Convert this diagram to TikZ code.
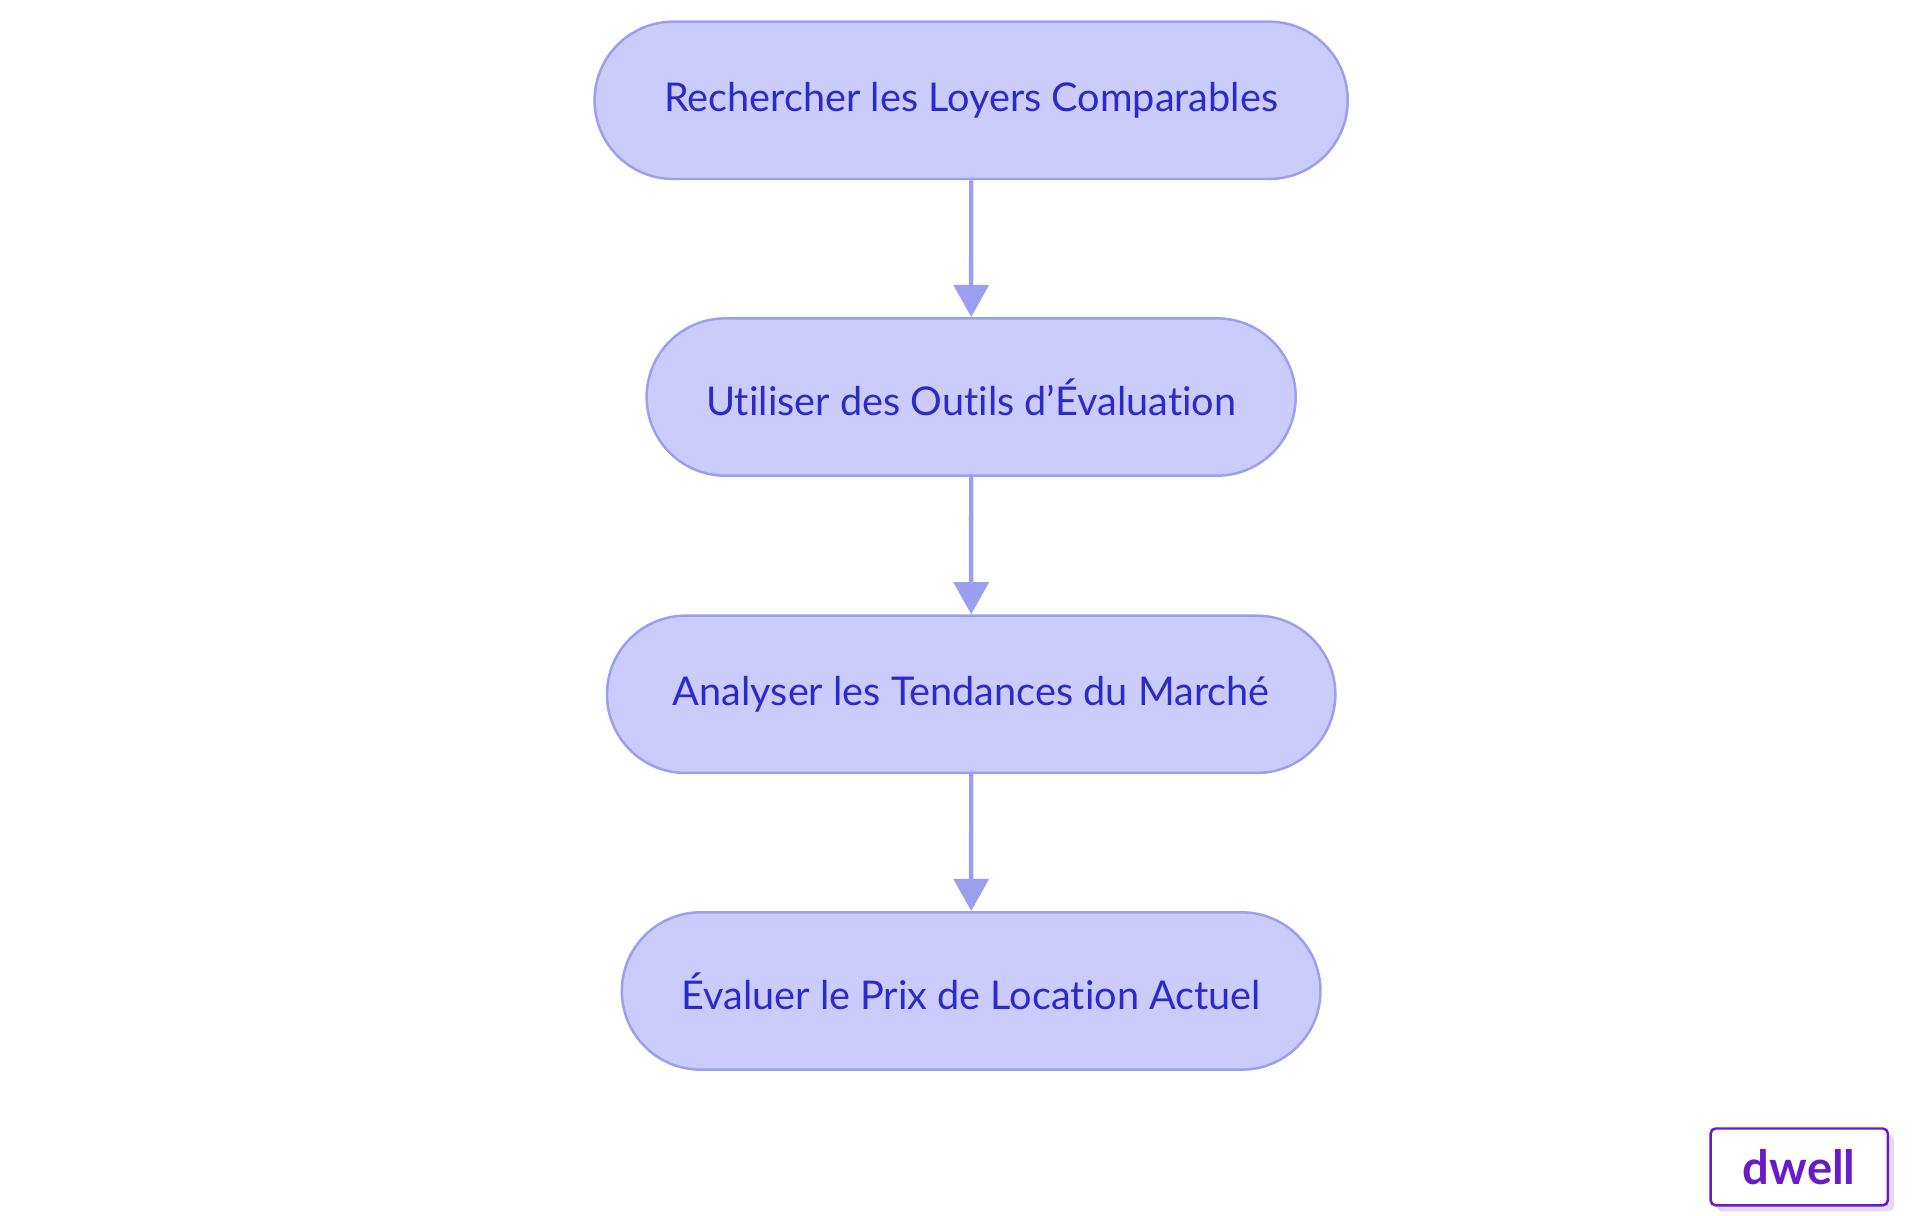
\documentclass[tikz,border=0pt]{standalone}
\usepackage{fontspec}
\setmainfont{Lato}[RawFeature=-liga]
\usetikzlibrary{arrows.meta,shapes.misc}
\definecolor{nfill}{HTML}{CBCBFC}
\definecolor{nline}{HTML}{9AA0EF}
\definecolor{ntext}{HTML}{2B2BCC}
\definecolor{logo}{HTML}{6A1BC9}
\definecolor{logosh}{HTML}{E6D9F7}
\begin{document}
\begin{tikzpicture}[x=0.5pt,y=-0.5pt,
  pill/.style={rounded rectangle, draw=nline, fill=nfill, line width=1pt, minimum height=63.5pt, text=ntext, font=\fontsize{16}{18}\selectfont, inner xsep=0pt},
  arr/.style={draw=nline, line width=1.8pt, -{Triangle[length=13pt,width=14pt]}}]
\useasboundingbox (0,0) rectangle (1550,981);
\node[pill, minimum width=304pt] (a) at (784,81) {Rechercher les Loyers Comparables};
\node[pill, minimum width=262pt] (b) at (784,320.5) {Utiliser des Outils d{\char"27}Évaluation};
\node[pill, minimum width=294pt] (c) at (784,560.5) {Analyser les Tendances du Marché};
\node[pill, minimum width=282pt] (d) at (784,800) {Évaluer le Prix de Location Actuel};
\draw[arr] (a) -- (b);
\draw[arr] (b) -- (c);
\draw[arr] (c) -- (d);
\fill[logosh, rounded corners=2pt] (1386,916) rectangle (1529,978);
\node[draw=logo, fill=white, line width=1pt, rounded corners=2pt, minimum width=71.5pt, minimum height=31pt, text=logo, font=\fontsize{19}{20}\selectfont\bfseries] (logo) at (1452.5,942) {dwell};
\end{tikzpicture}
\end{document}
